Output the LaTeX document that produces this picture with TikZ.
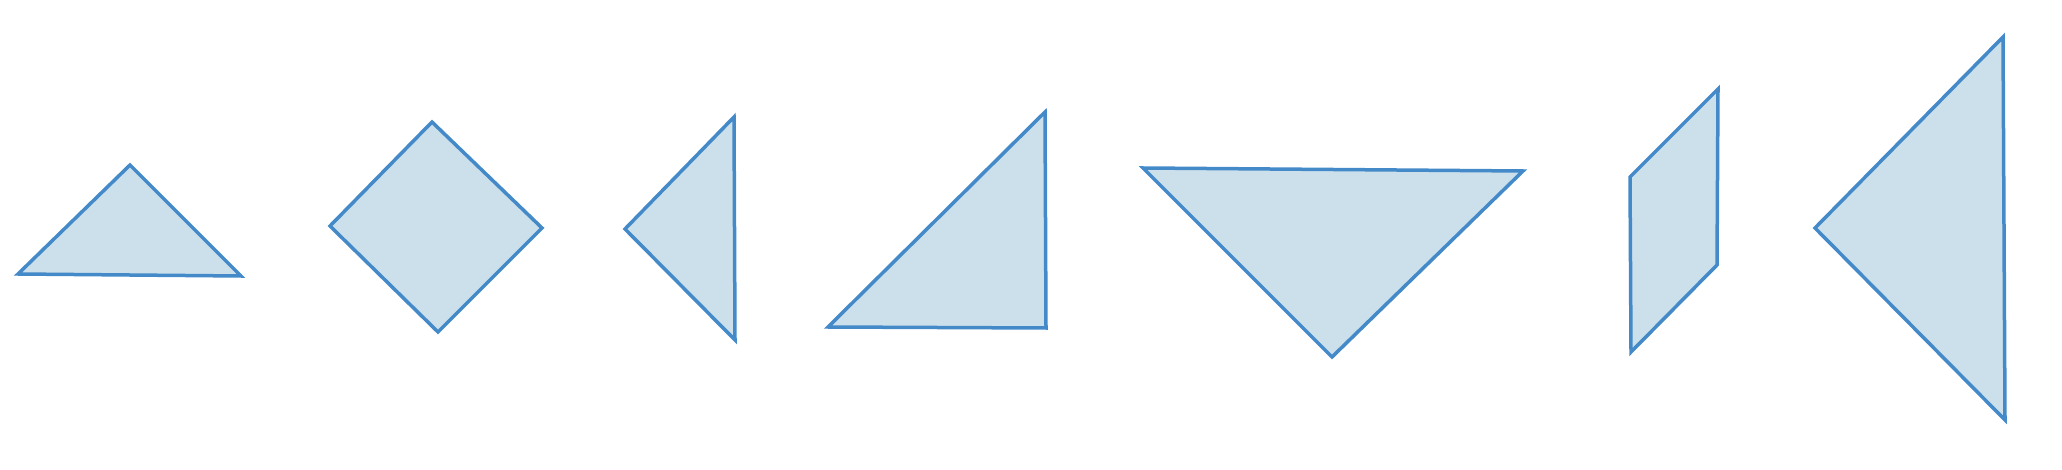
\documentclass[tikz,border=0pt]{standalone}
\definecolor{edgeblue}{RGB}{68,138,201}
\definecolor{fillblue}{RGB}{204,224,236}
\tikzset{piece/.style={draw=edgeblue,fill=fillblue,line width=3.5pt,line join=miter}}
\begin{document}
\begin{tikzpicture}[x=1pt,y=-1pt]
\useasboundingbox (0,0) rectangle (2062,470);
% shape 1
\draw[piece] (18,274) -- (130,165) -- (241,276) -- cycle;
% shape 2 (square)
\draw[piece] (432,122) -- (542,228) -- (438,332) -- (330,226) -- cycle;
% shape 3
\draw[piece] (625,229) -- (734,117) -- (735,340) -- cycle;
% shape 4
\draw[piece] (828,327) -- (1045,112) -- (1046,328) -- cycle;
% shape 5
\draw[piece] (1143,168) -- (1523,171) -- (1332,357) -- cycle;
% shape 6 (parallelogram)
\draw[piece] (1718,89) -- (1717,265) -- (1631,352) -- (1630,177) -- cycle;
% shape 7
\draw[piece] (2003,37) -- (2005,420) -- (1815,228) -- cycle;
\end{tikzpicture}
\end{document}
